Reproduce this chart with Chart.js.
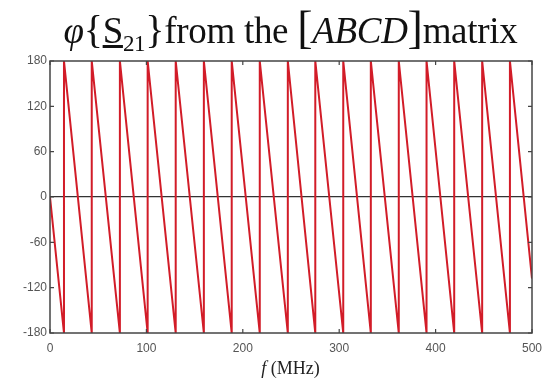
<!DOCTYPE html>
<html>
<head>
<meta charset="utf-8">
<script src="https://cdn.jsdelivr.net/npm/chart.js@4.4.1/dist/chart.umd.min.js"></script>
<style>
  html, body { margin: 0; padding: 0; background: #fff; }
  #wrap { position: relative; width: 551px; height: 381px; }
  #title {
    position: absolute; left: 0; width: 551px; top: 9px; text-align: center;
    font-family: 'Liberation Serif', 'DejaVu Serif', serif; font-size: 37px; line-height: 44px; color: #111;
    white-space: nowrap; padding-left: 30px; box-sizing: border-box; letter-spacing: -0.3px;
  }
  #title .br { font-size: 40px; line-height: 0; }
  #title .big { font-size: 46px; line-height: 0; }
  #title sub { font-size: 23px; line-height: 0; }
  #xlabel {
    position: absolute; left: 0; width: 551px; top: 358px; text-align: center;
    font-family: 'Liberation Serif', serif; font-size: 18px; color: #222;
    padding-left: 30px; box-sizing: border-box;
  }
</style>
</head>
<body>
<div id="wrap">
  <canvas id="phaseChart" width="551" height="381"></canvas>
  <div id="title"><i>φ</i><span class="br">{</span><u>S</u><sub>21</sub><span class="br">}</span>from the <span class="big">[</span><i>ABCD</i><span class="big">]</span>matrix</div>
  <div id="xlabel"><i>f</i> (MHz)</div>
</div>
<script>
// wrap points: each jump goes -180 -> 180
const freqMHz = [0, 14.5, 14.5, 43.3, 43.3, 72.5, 72.5, 101.3, 101.3, 130.4, 130.4,
  159.6, 159.6, 188.5, 188.5, 217.6, 217.6, 246.7, 246.7, 275.2, 275.2, 304.2, 304.2,
  332.8, 332.8, 361.8, 361.8, 390.6, 390.6, 419.3, 419.3, 448.3, 448.3, 477.1, 477.1, 500];
const phaseDeg = [0, -180, 180, -180, 180, -180, 180, -180, 180, -180, 180,
  -180, 180, -180, 180, -180, 180, -180, 180, -180, 180, -180, 180,
  -180, 180, -180, 180, -180, 180, -180, 180, -180, 180, -180, 180, -108];
const xTicks = [0, 100, 200, 300, 400, 500];
const yTicks = [-180, -120, -60, 0, 60, 120, 180];

const points = freqMHz.map((f, i) => ({ x: f, y: phaseDeg[i] }));

// matlab style box with inward tick marks
const boxPlugin = {
  id: 'box',
  afterDraw(chart) {
    const { ctx, chartArea: a, scales } = chart;
    ctx.save();
    ctx.strokeStyle = '#444';
    ctx.lineWidth = 1.5;
    ctx.strokeRect(a.left, a.top, a.right - a.left, a.bottom - a.top);
    ctx.lineWidth = 1.2;
    ctx.beginPath();
    xTicks.forEach(v => {
      const px = scales.x.getPixelForValue(v);
      ctx.moveTo(px, a.bottom); ctx.lineTo(px, a.bottom - 4);
      ctx.moveTo(px, a.top); ctx.lineTo(px, a.top + 4);
    });
    yTicks.forEach(v => {
      const py = scales.y.getPixelForValue(v);
      ctx.moveTo(a.left, py); ctx.lineTo(a.left + 4, py);
      ctx.moveTo(a.right, py); ctx.lineTo(a.right - 4, py);
    });
    ctx.stroke();
    ctx.restore();
  }
};

new Chart(document.getElementById('phaseChart'), {
  type: 'scatter',
  data: {
    datasets: [{
      data: points,
      showLine: true,
      borderColor: '#d21c28',
      borderWidth: 2,
      pointRadius: 0,
      tension: 0
    }]
  },
  options: {
    responsive: false,
    animation: false,
    layout: { padding: { top: 61, right: 19, left: 0, bottom: 0 } },
    plugins: { legend: { display: false }, tooltip: { enabled: false } },
    scales: {
      x: {
        type: 'linear', min: 0, max: 500,
        afterFit: s => { s.height = 48; },
        afterBuildTicks: s => { s.ticks = xTicks.map(v => ({ value: v })); },
        grid: { display: false },
        border: { display: false },
        ticks: { color: '#555', padding: 0, font: { family: 'Liberation Sans', size: 12 } }
      },
      y: {
        type: 'linear', min: -180, max: 180,
        afterFit: s => { s.width = 50; },
        afterBuildTicks: s => { s.ticks = yTicks.map(v => ({ value: v })); },
        grid: {
          drawTicks: false,
          color: c => c.tick && c.tick.value === 0 ? '#333' : 'rgba(0,0,0,0)',
          lineWidth: 1.2
        },
        border: { display: false },
        ticks: { color: '#555', padding: 3, font: { family: 'Liberation Sans', size: 12 } }
      }
    }
  },
  plugins: [boxPlugin]
});
</script>
</body>
</html>
